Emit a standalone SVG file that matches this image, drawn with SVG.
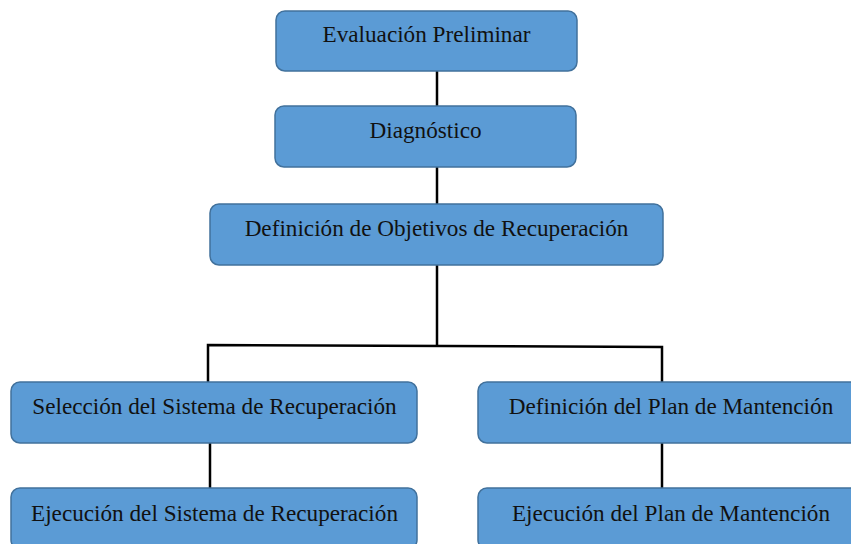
<svg xmlns="http://www.w3.org/2000/svg" width="851" height="544" viewBox="0 0 851 544">
<style>
.box{fill:#5B9BD5;stroke:#41719C;stroke-width:1.5}
.lbl{font-family:"Liberation Serif","Times New Roman",serif;font-size:23.2px;fill:#111;text-anchor:middle}
.con{stroke:#000;stroke-width:2.5;fill:none}
</style>
<rect width="851" height="544" fill="#fff"/>
<g id="connectors">
<line class="con" x1="437" y1="71" x2="437" y2="106"/>
<line class="con" x1="437" y1="167" x2="437" y2="204"/>
<line class="con" x1="437" y1="265" x2="437" y2="346"/>
<polyline class="con" points="208,382 208,345 662,347 662,382"/>
<line class="con" x1="210" y1="443" x2="210" y2="488"/>
<line class="con" x1="662" y1="443" x2="662" y2="488"/>
</g>
<g id="n1"><rect class="box" x="276" y="11" width="301" height="60" rx="9"/><text class="lbl" x="426.5" y="42">Evaluación Preliminar</text></g>
<g id="n2"><rect class="box" x="275" y="106" width="301" height="61" rx="9"/><text class="lbl" x="425.5" y="138">Diagnóstico</text></g>
<g id="n3"><rect class="box" x="210" y="204" width="453" height="61" rx="9"/><text class="lbl" x="436.5" y="236">Definición de Objetivos de Recuperación</text></g>
<g id="n4"><rect class="box" x="11" y="382" width="406" height="61" rx="9"/><text class="lbl" x="214.5" y="414">Selección del Sistema de Recuperación</text></g>
<g id="n5"><rect class="box" x="478" y="382" width="386" height="61" rx="9"/><text class="lbl" x="671" y="414">Definición del Plan de Mantención</text></g>
<g id="n6"><rect class="box" x="11" y="488" width="406" height="61" rx="9"/><text class="lbl" x="214.5" y="521">Ejecución del Sistema de Recuperación</text></g>
<g id="n7"><rect class="box" x="478" y="488" width="386" height="61" rx="9"/><text class="lbl" x="671" y="521">Ejecución del Plan de Mantención</text></g>
</svg>
